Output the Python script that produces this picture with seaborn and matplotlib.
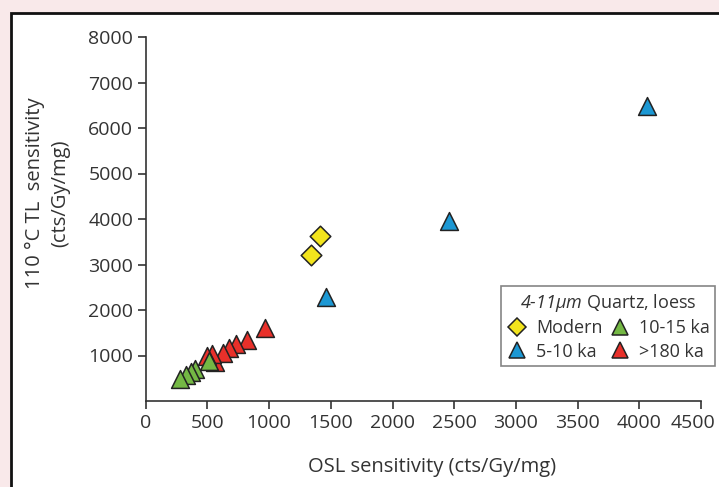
import pandas as pd
import matplotlib
matplotlib.use("Agg")
import matplotlib.pyplot as plt
import matplotlib.transforms as mtransforms
import seaborn as sns
from matplotlib.lines import Line2D
from matplotlib.patches import Rectangle

# values
groups = ["Modern", "5-10 ka", "10-15 ka", ">180 ka"]
osl_modern = [1412, 1340]
tl_modern = [3620, 3200]
osl_5_10 = [1460, 2460, 4060]
tl_5_10 = [2280, 3950, 6480]
osl_10_15 = [513, 400, 367, 326, 278]
tl_10_15 = [874, 707, 647, 581, 486]
osl_180 = [967, 818, 732, 678, 629, 562, 535, 499]
tl_180 = [1609, 1345, 1257, 1160, 1050, 867, 1037, 1000]

colors = {"Modern": "#f2e41c", "5-10 ka": "#1c98d4",
          "10-15 ka": "#74b844", ">180 ka": "#e8302a"}
markers = {"Modern": "D", "5-10 ka": "^", "10-15 ka": "^", ">180 ka": "^"}

# red first so green sits on top in the cluster
df = pd.concat([
    pd.DataFrame({"osl": osl_180, "tl": tl_180, "group": ">180 ka"}),
    pd.DataFrame({"osl": osl_10_15, "tl": tl_10_15, "group": "10-15 ka"}),
    pd.DataFrame({"osl": osl_5_10, "tl": tl_5_10, "group": "5-10 ka"}),
    pd.DataFrame({"osl": osl_modern, "tl": tl_modern, "group": "Modern"}),
], ignore_index=True)

sns.set_theme(style="ticks")
plt.rcParams["font.family"] = ["Open Sans", "DejaVu Sans"]
plt.rcParams["mathtext.fontset"] = "custom"
plt.rcParams["mathtext.it"] = "Open Sans:italic"
plt.rcParams["mathtext.rm"] = "Open Sans:italic"

fig = plt.figure(figsize=(7.19, 4.87), dpi=100)
fig.patch.set_facecolor("#f9e9ea")
fig.patches.append(Rectangle((11 / 719, -0.1), 1.2, 1 - 13 / 487 + 0.1,
                             transform=fig.transFigure, facecolor="white",
                             edgecolor="#111111", linewidth=2, zorder=-1))

ax = fig.add_axes([145.7 / 719, 86 / 487, 555.3 / 719, 364 / 487])
ax.set_zorder(1)
ax.set_facecolor("none")

sizes = {"Modern": 110, "5-10 ka": 165, "10-15 ka": 165, ">180 ka": 165}
for g in [">180 ka", "10-15 ka", "5-10 ka", "Modern"]:
    sub = df[df["group"] == g]
    sns.scatterplot(data=sub, x="osl", y="tl", color=colors[g], marker=markers[g],
                    s=sizes[g], edgecolor="#222222", linewidth=1.1, ax=ax,
                    legend=False, zorder=3)

ax.set_xlim(0, 4500)
ax.set_ylim(0, 8000)
ax.set_xticks(range(0, 4501, 500))
ax.set_yticks(range(1000, 8001, 1000))
for s in ["top", "right"]:
    ax.spines[s].set_visible(False)
for s in ["left", "bottom"]:
    ax.spines[s].set_color("#333333")
    ax.spines[s].set_linewidth(1.2)
ax.tick_params(colors="#333333", labelsize=14, length=6, width=1.2, pad=3)
ax.set_xlabel("")
ax.set_ylabel("")

# nudge the last x label in so it stays inside the picture
last = ax.get_xticklabels()[-1]
last.set_transform(last.get_transform() +
                   mtransforms.ScaledTranslation(-8 / 100, 0, fig.dpi_scale_trans))

fig.text(432 / 719, 1 - 467 / 487, "OSL sensitivity (cts/Gy/mg)",
         ha="center", va="center", fontsize=14.5, color="#333333")
fig.text(48 / 719, 1 - 193 / 487, "110 °C TL  sensitivity\n(cts/Gy/mg)",
         ha="center", va="center", rotation=90, multialignment="center",
         fontsize=14.5, color="#333333", linespacing=1.35)

handles = []
for g in ["Modern", "5-10 ka", "10-15 ka", ">180 ka"]:
    handles.append(Line2D([], [], linestyle="none", marker=markers[g],
                          markersize=11 if g != "Modern" else 9,
                          markerfacecolor=colors[g], markeredgecolor="#222222",
                          markeredgewidth=1.1, label=g))
leg = ax.legend(handles=handles, ncol=2, loc="lower right",
                bbox_to_anchor=(1.025, 0.096), borderaxespad=0,
                title=r"$4\text{-}11\mu m$ Quartz, loess",
                fontsize=13, title_fontsize=13, frameon=True, fancybox=False,
                edgecolor="#666666", handletextpad=0.45, columnspacing=0.35,
                borderpad=0.3, labelspacing=0.3, handlelength=1.2)
leg.get_frame().set_linewidth(1.2)
for t in leg.get_texts():
    t.set_color("#333333")
leg.get_title().set_color("#333333")

fig.savefig("out.png", dpi=100, facecolor=fig.get_facecolor())
